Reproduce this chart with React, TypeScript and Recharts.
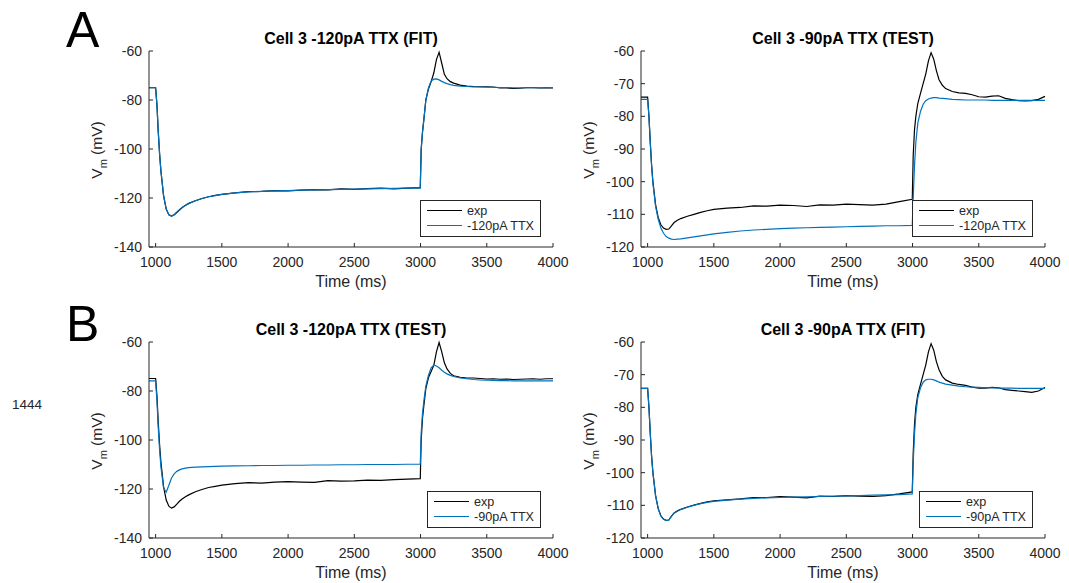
import { LineChart, Line, XAxis, YAxis, Legend } from 'recharts'

// shared time grid (ms)
const TIME = [
	950, 1000, 1010, 1020, 1030, 1040, 1060, 1080, 1100, 1120,
	1140, 1160, 1180, 1200, 1225, 1250, 1300, 1350, 1400, 1450,
	1500, 1600, 1700, 1800, 1900, 2000, 2100, 2200, 2300, 2400,
	2500, 2600, 2700, 2800, 2900, 2998, 3005, 3015, 3025, 3040,
	3060, 3080, 3100, 3120, 3140, 3160, 3180, 3200, 3225, 3250,
	3300, 3350, 3400, 3450, 3500, 3550, 3600, 3650, 3700, 3750,
	3800, 3850, 3900, 3950, 4000,
]

// A left: -120pA, fit
const A_FIT_EXP = [
	-75, -75, -82, -93, -102, -109, -119, -124.5, -126.9, -127.4,
	-126.8, -125.8, -124.8, -123.9, -123, -122.2, -121.1, -120.2, -119.5, -118.9,
	-118.5, -117.9, -117.4, -117.3, -117.0, -117.1, -116.8, -116.6, -116.7, -116.3,
	-116.5, -116.2, -116.0, -116.3, -116.0, -115.8, -100, -93, -88, -80,
	-75.5, -72.5, -69, -63.5, -60.5, -65, -69.5, -71.3, -72.5, -73.1,
	-73.9, -74.3, -74.5, -74.6, -74.6, -74.7, -75.1, -75.1, -75.3, -75.2,
	-75.0, -75.0, -75.1, -75.0, -75.1,
]
const A_FIT_MODEL = [
	-75, -75, -82, -93, -102, -109, -119, -124.5, -126.9, -127.4,
	-126.9, -126.0, -125.0, -124.0, -123.1, -122.3, -121.1, -120.2, -119.5, -119.0,
	-118.5, -117.9, -117.5, -117.3, -117.1, -117.0, -116.8, -116.7, -116.6, -116.5,
	-116.4, -116.3, -116.2, -116.1, -116.0, -116.0, -100, -93, -88, -80,
	-75, -72.3, -71.5, -71.4, -71.8, -72.4, -72.9, -73.3, -73.7, -74.0,
	-74.3, -74.5, -74.7, -74.7, -74.8, -74.8, -74.9, -74.9, -75.0, -75.0,
	-75.0, -75.0, -75.0, -75.0, -75.0,
]

// A right: -90pA, test against -120pA model
const A_TEST_EXP = [
	-74.1, -74.1, -80, -88, -95, -100, -107, -111, -113.2, -114.2,
	-114.6, -114.5, -113.5, -112.5, -111.8, -111.3, -110.6, -110.0, -109.4, -108.9,
	-108.5, -108.1, -107.9, -107.4, -107.5, -107.2, -107.3, -107.6, -107.1, -107.2,
	-106.9, -107.0, -107.2, -106.9, -106.1, -105.4, -92, -84, -80, -76,
	-73, -70, -67, -63, -60.5, -62.5, -66, -68.8, -70.5, -71.5,
	-72.4, -72.8, -73.0, -73.4, -74.0, -74.1, -73.8, -73.7, -74.5, -74.9,
	-75.2, -75.3, -75.2, -74.8, -73.9,
]
const A_TEST_MODEL = [
	-74.8, -74.8, -80, -88, -95, -100.5, -107.5, -111.5, -114.2, -115.8,
	-116.8, -117.3, -117.6, -117.7, -117.6, -117.5, -117.2, -116.9, -116.6, -116.3,
	-116.0, -115.5, -115.1, -114.8, -114.6, -114.4, -114.2, -114.1, -114.0, -113.9,
	-113.8, -113.7, -113.6, -113.5, -113.5, -113.4, -105, -95, -88, -82,
	-78.5, -76.3, -75.2, -74.7, -74.4, -74.3, -74.3, -74.4, -74.5, -74.6,
	-74.8, -74.9, -75.0, -75.0, -75.0, -75.0, -75.1, -75.1, -75.1, -75.1,
	-75.1, -75.1, -75.1, -75.1, -75.1,
]

// B left: -120pA, test against -90pA model
const B_TEST_EXP = [
	-74.9, -74.9, -82, -93, -102, -109, -119, -124.5, -127, -127.8,
	-127.3, -126.2, -125, -124.1, -123.2, -122.4, -121.1, -120.2, -119.4, -118.9,
	-118.4, -117.8, -117.4, -117.6, -117.2, -117.0, -117.2, -117.3, -116.6, -116.8,
	-116.7, -116.4, -116.5, -116.2, -116.0, -115.8, -100, -91, -86, -79,
	-74.5, -72, -69.5, -64, -60.2, -64, -68.5, -71, -72.8, -73.8,
	-74.4, -74.7, -74.7, -74.9, -75.1, -75.0, -75.2, -75.1, -75.3, -75.2,
	-75.1, -75.0, -75.2, -75.0, -75.0,
]
const B_TEST_MODEL = [
	-75.9, -75.9, -84, -95, -104, -111, -119.5, -121.3, -118.5, -115.5,
	-113.8, -112.8, -112.2, -111.8, -111.5, -111.3, -111.1, -111.0, -110.9, -110.8,
	-110.7, -110.6, -110.5, -110.4, -110.4, -110.3, -110.3, -110.2, -110.2, -110.1,
	-110.1, -110.0, -110.0, -110.0, -109.9, -109.9, -97, -89, -84, -78,
	-73.5, -70.5, -69.5, -69.8, -70.5, -71.5, -72.3, -73.0, -73.6, -74.1,
	-74.7, -75.0, -75.3, -75.5, -75.6, -75.7, -75.8, -75.8, -75.9, -75.9,
	-75.9, -75.9, -75.9, -75.9, -75.9,
]

// B right: -90pA, fit
const B_FIT_EXP = [
	-74.2, -74.2, -80, -88, -95, -100, -107, -111, -113.2, -114.2,
	-114.6, -114.5, -113.3, -112.3, -111.7, -111.2, -110.5, -109.9, -109.4, -108.9,
	-108.6, -108.3, -108.0, -107.6, -107.6, -107.3, -107.5, -107.7, -107.2, -107.3,
	-107.0, -107.2, -107.3, -107.0, -106.5, -105.9, -94, -85, -80, -76,
	-73, -70, -67, -63, -60.5, -62.5, -66, -68.5, -70.5, -71.6,
	-72.6, -73.0, -73.3, -73.8, -74.1, -74.1, -73.9, -74.0, -74.6, -74.8,
	-75.0, -75.2, -75.4, -75.0, -73.9,
]
const B_FIT_MODEL = [
	-74.2, -74.2, -80, -88, -95, -100, -107, -111, -113.3, -114.3,
	-114.7, -114.5, -113.4, -112.4, -111.8, -111.3, -110.6, -110.0, -109.5, -109.1,
	-108.8, -108.4, -108.1, -107.9, -107.7, -107.6, -107.5, -107.4, -107.3, -107.2,
	-107.1, -107.0, -106.9, -106.8, -106.7, -106.5, -97, -88, -82, -77,
	-74, -72.3, -71.6, -71.4, -71.4, -71.6, -71.9, -72.3, -72.6, -72.9,
	-73.2, -73.5, -73.7, -73.8, -73.9, -74.0, -74.0, -74.1, -74.1, -74.1,
	-74.2, -74.2, -74.2, -74.2, -74.2,
]

const X_TICKS = [1000, 1500, 2000, 2500, 3000, 3500, 4000]
const Y_TICKS_WIDE = [-140, -120, -100, -80, -60]
const Y_TICKS_NARROW = [-120, -110, -100, -90, -80, -70, -60]

const FONT = '"Liberation Sans", Arial, Helvetica, sans-serif'
const INK = '#262626'
const EXP_COLOR = '#000000'
const MODEL_COLOR = '#0072BD'

const W = 570
const H = 292
const YAXIS_W = 60
const XAXIS_H = 30
// plot box inside each panel: x 149..553, y 51..247
const MARGIN = { top: 51, left: 149 - YAXIS_W, right: W - 553, bottom: H - 247 - XAXIS_H }

function YLabel({ viewBox }: any) {
	const cx = viewBox.x + 12.7
	const cy = viewBox.y + viewBox.height / 2 + 1
	return (
		<text
			x={cx}
			y={cy}
			transform={`rotate(-90, ${cx}, ${cy})`}
			textAnchor='middle'
			fill={INK}
			fontSize={15.5}
			fontFamily={FONT}
		>
			V
			<tspan fontSize={11} dy={5.5}>
				m
			</tspan>
			<tspan dy={-5.5}> (mV)</tspan>
		</text>
	)
}

function XLabel({ viewBox }: any) {
	return (
		<text
			x={viewBox.x + viewBox.width / 2}
			y={viewBox.y + 40}
			textAnchor='middle'
			fill={INK}
			fontSize={16}
			fontFamily={FONT}
		>
			Time (ms)
		</text>
	)
}

function LegendBox({ payload }: any) {
	// exp first, then the model, as in the plot order
	const items = [...(payload ?? [])].sort((a: any, b: any) =>
		a.value === 'exp' ? -1 : b.value === 'exp' ? 1 : 0,
	)
	return (
		<div
			style={{
				border: `1px solid ${INK}`,
				background: '#fff',
				padding: '2px 6px 3px 6px',
				fontFamily: FONT,
				fontSize: 12.6,
				color: INK,
			}}
		>
			{items.map((p: any) => (
				<div key={p.value} style={{ display: 'flex', alignItems: 'center', height: 15 }}>
					<span style={{ width: 35, borderTop: `1.3px solid ${p.color}`, display: 'inline-block' }} />
					<span style={{ marginLeft: 5, whiteSpace: 'nowrap' }}>{p.value}</span>
				</div>
			))}
		</div>
	)
}

type PanelProps = {
	left: number
	top: number
	title: string
	modelName: string
	exp: number[]
	model: number[]
	yTicks: number[]
}

function Panel({ left, top, title, modelName, exp, model, yTicks }: PanelProps) {
	const data = TIME.map((t, i) => ({ t, exp: exp[i], model: model[i] }))
	return (
		<div style={{ position: 'absolute', left, top, width: W, height: H }}>
			<div
				style={{
					position: 'absolute',
					left: 149,
					width: 404,
					top: 29,
					textAlign: 'center',
					fontFamily: FONT,
					fontWeight: 'bold',
					fontSize: 16,
					color: '#000',
					lineHeight: '20px',
				}}
			>
				{title}
			</div>
			<LineChart width={W} height={H} data={data} margin={MARGIN}>
				<XAxis
					dataKey='t'
					type='number'
					domain={[950, 4000]}
					ticks={X_TICKS}
					interval={0}
					height={XAXIS_H}
					stroke={INK}
					tickSize={-4}
					tickMargin={14}
					tick={{ fill: INK, fontSize: 14, fontFamily: FONT }}
					label={{ content: XLabel }}
				/>
				<YAxis
					type='number'
					domain={[yTicks[0], yTicks[yTicks.length - 1]]}
					ticks={yTicks}
					interval={0}
					width={YAXIS_W}
					stroke={INK}
					tickSize={-4}
					tickMargin={11}
					tick={{ fill: INK, fontSize: 14, fontFamily: FONT }}
					label={{ content: YLabel }}
				/>
				<Legend
					layout='horizontal'
					verticalAlign='middle'
					align='center'
					wrapperStyle={{ right: W - 541, top: 200, width: 'auto' }}
					content={LegendBox}
				/>
				<Line
					type='linear'
					dataKey='exp'
					name='exp'
					stroke={EXP_COLOR}
					strokeWidth={1.2}
					dot={false}
					activeDot={false}
					isAnimationActive={false}
				/>
				<Line
					type='linear'
					dataKey='model'
					name={modelName}
					stroke={MODEL_COLOR}
					strokeWidth={1.2}
					dot={false}
					activeDot={false}
					isAnimationActive={false}
				/>
			</LineChart>
		</div>
	)
}

export default function App() {
	return (
		<div
			style={{
				position: 'absolute',
				left: 0,
				top: 0,
				width: 1069,
				height: 583,
				background: '#fff',
				overflow: 'hidden',
				fontFamily: FONT,
			}}
		>
			<Panel left={0} top={0} title='Cell 3 -120pA TTX (FIT)' modelName='-120pA TTX' exp={A_FIT_EXP} model={A_FIT_MODEL} yTicks={Y_TICKS_WIDE} />
			<Panel left={492} top={0} title='Cell 3 -90pA TTX (TEST)' modelName='-120pA TTX' exp={A_TEST_EXP} model={A_TEST_MODEL} yTicks={Y_TICKS_NARROW} />
			<Panel left={0} top={291} title='Cell 3 -120pA TTX (TEST)' modelName='-90pA TTX' exp={B_TEST_EXP} model={B_TEST_MODEL} yTicks={Y_TICKS_WIDE} />
			<Panel left={492} top={291} title='Cell 3 -90pA TTX (FIT)' modelName='-90pA TTX' exp={B_FIT_EXP} model={B_FIT_MODEL} yTicks={Y_TICKS_NARROW} />
			<svg width={1069} height={583} style={{ position: 'absolute', left: 0, top: 0, pointerEvents: 'none' }}>
				<text x={66} y={47} fontSize={50} fontFamily={FONT} fill='#000'>
					A
				</text>
				<text x={66} y={341} fontSize={50} fontFamily={FONT} fill='#000'>
					B
				</text>
				<text x={12} y={409} fontSize={13.5} fontFamily={FONT} fill={INK}>
					1444
				</text>
			</svg>
		</div>
	)
}
